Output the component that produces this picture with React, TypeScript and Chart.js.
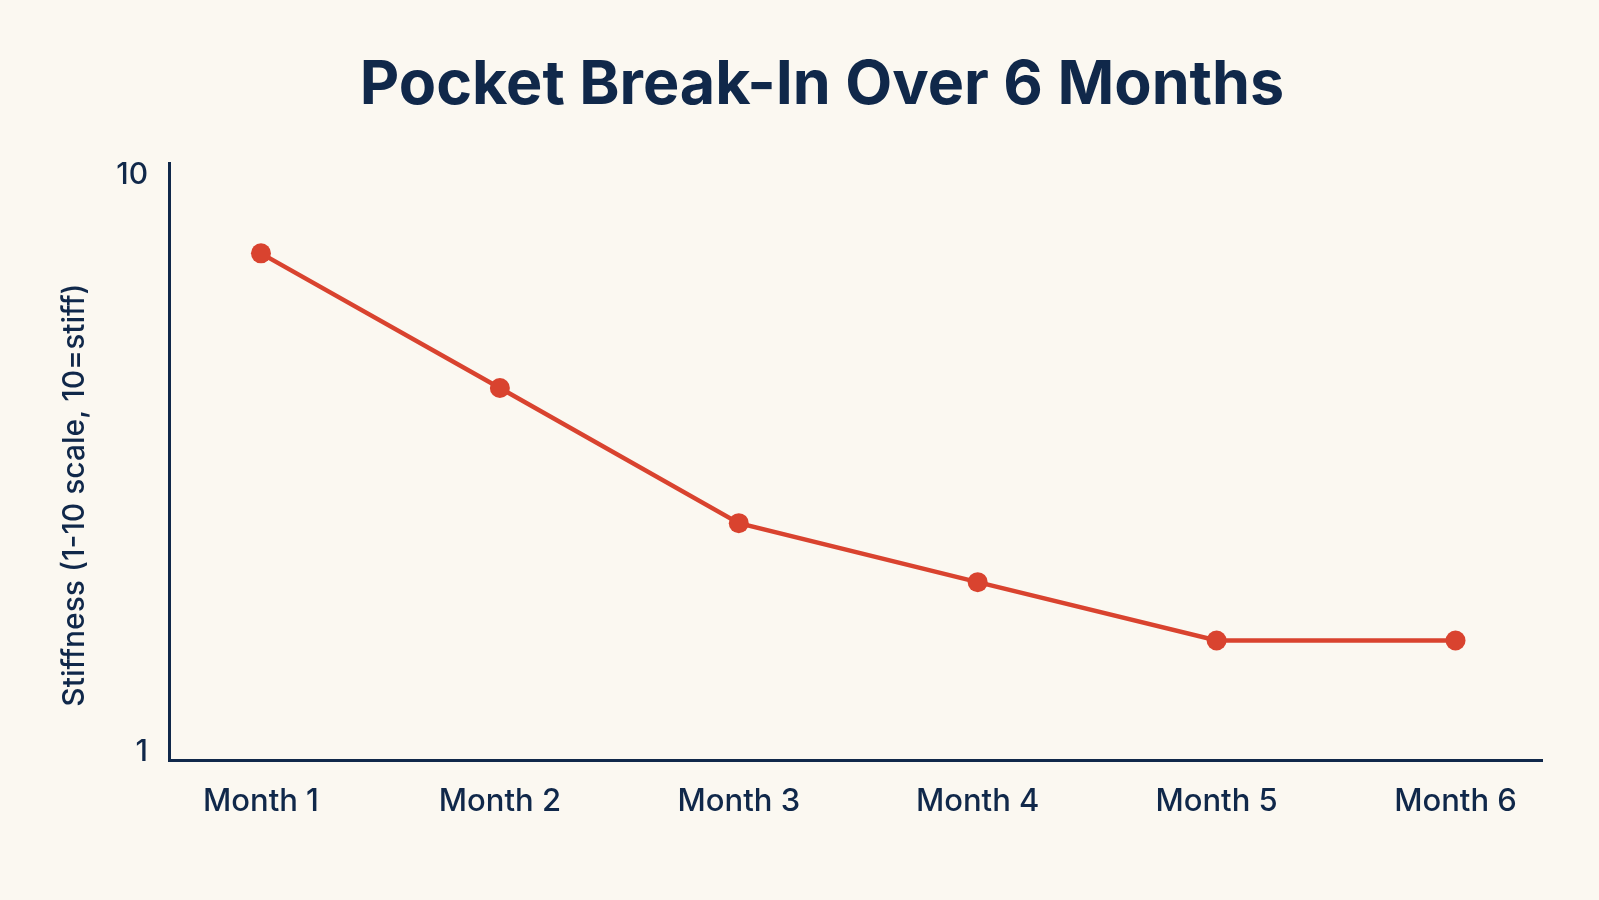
import { useEffect, useRef } from "react";
import { Chart, registerables } from "chart.js";

Chart.register(...registerables);

const months = ["Month 1", "Month 2", "Month 3", "Month 4", "Month 5", "Month 6"];
const stiffness = [8.78, 6.68, 4.57, 3.65, 2.74, 2.74];
const yTicks = [1, 10];
const titleText = "Pocket Break-In Over 6 Months";
const yAxisLabel = "Stiffness (1-10 scale, 10=stiff)";

const navy = "#10284a";
const red = "#d9432f";
const bg = "#fbf8f1";

// title + rotated y label, placed by hand
const textPlugin = {
    id: "pageText",
    afterDraw(chart: any) {
        const ctx = chart.ctx;
        ctx.save();
        ctx.fillStyle = navy;
        ctx.textAlign = "center";
        ctx.textBaseline = "middle";
        ctx.font = "bold 61px Inter";
        ctx.fillText(titleText, 822, 86);

        ctx.translate(75, 495);
        ctx.rotate(-Math.PI / 2);
        ctx.font = "500 30px Inter";
        ctx.fillText(yAxisLabel, 0, 0);
        ctx.restore();
    },
};

const App = () => {
    const canvasRef = useRef<HTMLCanvasElement>(null);

    useEffect(() => {
        if (!canvasRef.current) return;
        const ctx = canvasRef.current.getContext("2d");
        if (!ctx) return;

        const chart = new Chart(ctx, {
            type: "line",
            data: {
                datasets: [
                    {
                        label: "Stiffness",
                        data: stiffness.map((v, i) => ({ x: i, y: v })),
                        borderColor: red,
                        borderWidth: 4.5,
                        pointRadius: 10,
                        pointBorderWidth: 0,
                        pointBackgroundColor: red,
                        tension: 0,
                    },
                ],
            },
            options: {
                animation: false,
                responsive: false,
                devicePixelRatio: 1,
                layout: { padding: { top: 163, right: 57, left: 0, bottom: 0 } },
                plugins: {
                    legend: { display: false },
                    title: { display: false },
                    tooltip: { enabled: false },
                },
                scales: {
                    x: {
                        type: "linear",
                        min: -0.385,
                        max: 5.362,
                        afterBuildTicks: (axis: any) => {
                            axis.ticks = months.map((_, i) => ({ value: i }));
                        },
                        afterFit: (s: any) => {
                            s.height = 140;
                        },
                        grid: { display: false, drawTicks: false },
                        border: { color: navy, width: 3 },
                        ticks: {
                            color: navy,
                            font: { family: "Inter", size: 31, weight: 500 },
                            padding: 23,
                            maxRotation: 0,
                            callback: (v: any) => months[v] ?? "",
                        },
                    },
                    y: {
                        type: "linear",
                        min: 0.875,
                        max: 10.19,
                        afterBuildTicks: (axis: any) => {
                            axis.ticks = yTicks.map((v) => ({ value: v }));
                        },
                        afterFit: (s: any) => {
                            s.width = 169;
                        },
                        grid: { display: false, drawTicks: false },
                        border: { color: navy, width: 3 },
                        ticks: {
                            color: navy,
                            font: { family: "Inter", size: 30, weight: 500 },
                            padding: 21,
                        },
                    },
                },
            },
            plugins: [textPlugin],
        });

        return () => {
            chart.destroy();
        };
    }, []);

    return (
        <div style={{ position: "fixed", left: 0, top: 0, width: 1599, height: 900, background: bg }}>
            <canvas ref={canvasRef} width={1599} height={900}></canvas>
        </div>
    );
};

export default App;
